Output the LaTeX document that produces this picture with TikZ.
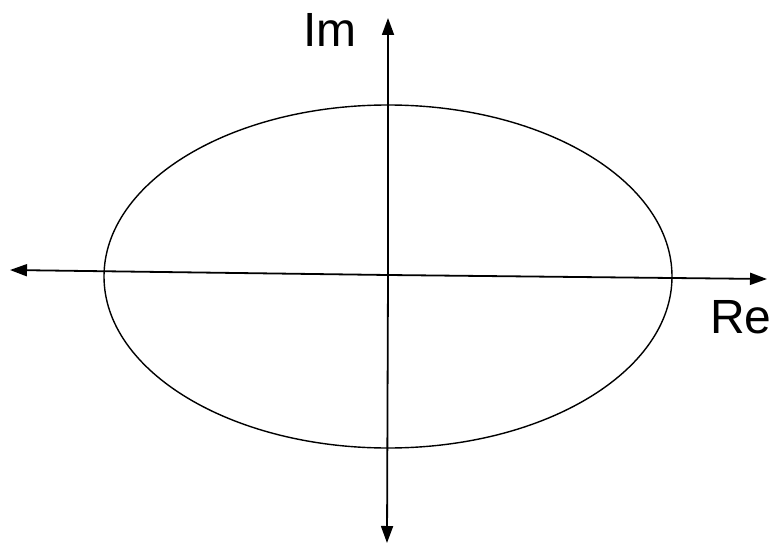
\documentclass[tikz,border=0pt]{standalone}
\usepackage{fontspec}
\setmainfont{Liberation Sans}
\usetikzlibrary{arrows.meta}
\begin{document}
\begin{tikzpicture}[x=1pt,y=1pt,
  axis/.style={line width=1.8pt,-{Triangle[length=17pt,width=12pt]}},
  curve/.style={line width=1.4pt},
  lbl/.style={inner sep=0pt,anchor=base,font=\fontsize{48}{52}\selectfont}]
\useasboundingbox (0,0) rectangle (778,547);
\coordinate (O) at (388,272);
\coordinate (L) at (10,277);
\coordinate (R) at (767,268);
\coordinate (T) at (388,529);
\coordinate (B) at (387,4);
\draw[curve] (388,270.5) ellipse [x radius=284, y radius=171.5];
\draw[axis] (O) -- (L);
\draw[axis] (O) -- (R);
\draw[axis] (O) -- (T);
\draw[axis] (O) -- (B);
\node[lbl] (im) at (330,500) {Im};
\node[lbl] (re) at (741,214) {Re};
\end{tikzpicture}
\end{document}
